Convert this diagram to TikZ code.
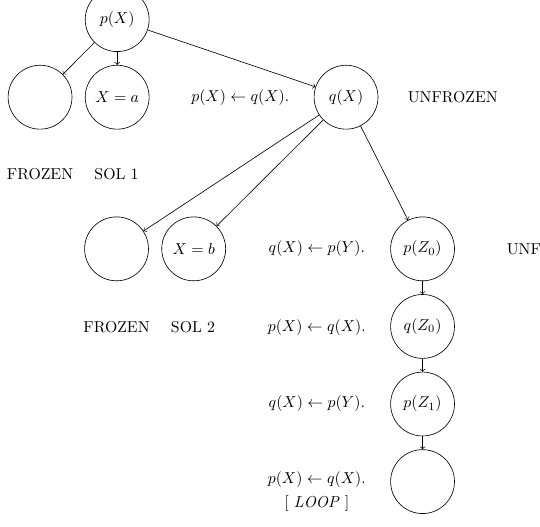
\documentclass[tikz,border=0pt]{standalone}
\usepackage{tikz}
\usetikzlibrary{positioning}

\begin{document}
\begin{tikzpicture}[
  node distance=2.9mm and 2.8mm,
  goal/.style={draw, circle, minimum size=14.2mm, inner sep=0pt},
  arrow/.style={->}
]
\useasboundingbox (0,0) rectangle (12,-11.711);
\node[goal] (e1) at (0.89,-2.16) {};
\node[goal, right=of e1] (Xa) {$X=a$};
\node[goal, above=of Xa] (pX) {$p(X)$};
\node (r1) at (5.34,-2.16) {$p(X) \leftarrow q(X).$};
\node[goal] (qX) at (7.69,-2.16) {$q(X)$};
\node (u1) at (10.06,-2.16) {UNFROZEN};
\node (f1) at (0.89,-3.87) {FROZEN};
\node (s1) at (2.59,-3.87) {SOL 1};
\node[goal] (e2) at (2.59,-5.53) {};
\node[goal, right=of e2] (Xb) {$X=b$};
\node (r2) at (7.04,-5.53) {$q(X) \leftarrow p(Y).$};
\node[goal] (pZ0) at (9.39,-5.53) {$p(Z_0)$};
\node (u2) at (12.26,-5.53) {UNFROZEN};
\node (f2) at (2.59,-7.27) {FROZEN};
\node (s2) at (4.29,-7.27) {SOL 2};
\node[goal, below=of pZ0] (qZ0) {$q(Z_0)$};
\node (r3) at (7.04,-7.27) {$p(X) \leftarrow q(X).$};
\node[goal, below=of qZ0] (pZ1) {$p(Z_1)$};
\node (r4) at (7.04,-8.96) {$q(X) \leftarrow p(Y).$};
\node[goal, below=of pZ1] (e3) {};
\node[align=center] (r5) at (7.04,-10.93) {$p(X) \leftarrow q(X).$\\[3pt]{[} \textit{LOOP} ]};
\draw[arrow] (pX) -- (e1);
\draw[arrow] (pX) -- (Xa);
\draw[arrow] (pX) -- (qX);
\draw[arrow] (qX) -- (e2);
\draw[arrow] (qX) -- (Xb);
\draw[arrow] (qX) -- (pZ0);
\draw[arrow] (pZ0) -- (qZ0);
\draw[arrow] (qZ0) -- (pZ1);
\draw[arrow] (pZ1) -- (e3);
\end{tikzpicture}
\end{document}
